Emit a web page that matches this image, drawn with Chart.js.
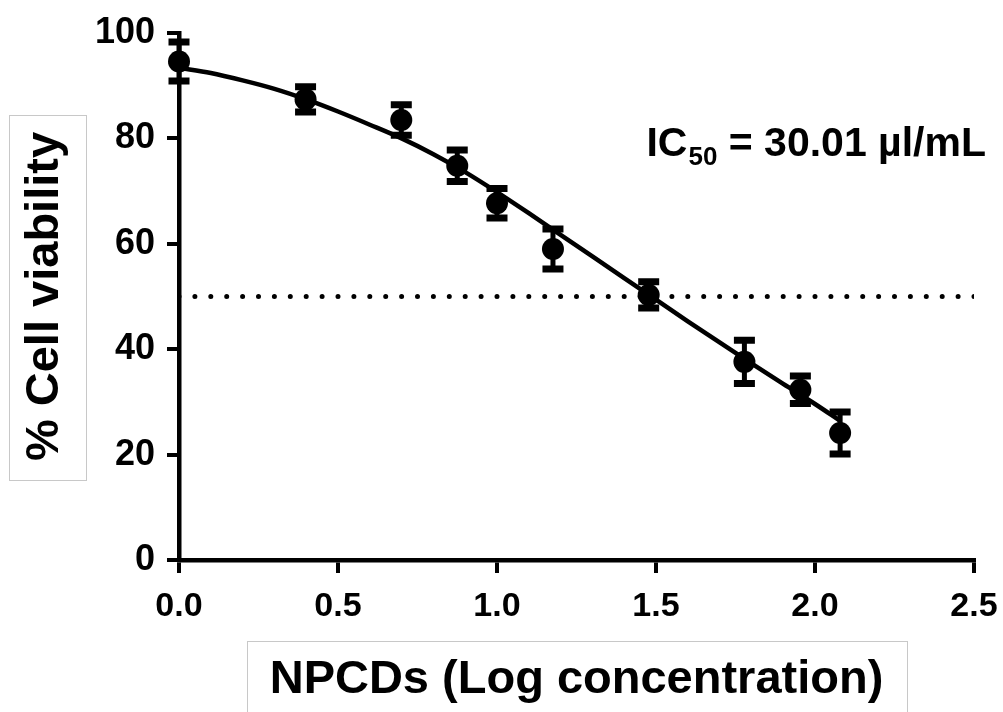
<!DOCTYPE html>
<html>
<head>
<meta charset="utf-8">
<title>NPCDs cell viability</title>
<script src="https://cdn.jsdelivr.net/npm/chart.js@4/dist/chart.umd.min.js"></script>
<style>
  html, body { margin: 0; padding: 0; background: #fff; }
  #wrap { width: 1003px; height: 712px; position: relative; }
</style>
</head>
<body>
<div id="wrap"><canvas id="viability"></canvas></div>
<script>
// measured points (log concentration vs % viability, mean +/- error)
const logConc = [0, 0.398, 0.699, 0.875, 1.0, 1.176, 1.477, 1.778, 1.954, 2.079]
const viability = [94.6, 87.4, 83.5, 74.8, 67.7, 59.0, 50.3, 37.6, 32.3, 24.1]
const viabilityErr = [3.7, 2.4, 2.9, 3.0, 2.8, 3.8, 2.5, 4.1, 2.6, 4.0]

// fitted curve
const fitX = [0, 0.1, 0.2, 0.3, 0.4, 0.5, 0.6, 0.7, 0.8, 0.9, 1.0, 1.1, 1.2, 1.3, 1.4, 1.5, 1.6, 1.7, 1.8, 1.9, 2.0, 2.079]
const fitY = [93.4, 92.4, 91.0, 89.4, 87.4, 85.1, 82.6, 80.0, 77.0, 73.6, 69.8, 65.8, 61.7, 57.6, 53.5, 49.4, 45.3, 41.3, 37.3, 33.4, 29.6, 26.4]

const halfLine = [0, 2.5]
const halfLineY = 50

const xTicks = [0, 0.5, 1.0, 1.5, 2.0, 2.5]
const yTicks = [0, 20, 40, 60, 80, 100]

const xTitle = 'NPCDs (Log concentration)'
const yTitle = '% Cell viability'

const FONT = '"Liberation Sans", Arial, Helvetica, sans-serif'
const TITLE_SIZE = 47
Chart.defaults.font.family = FONT
Chart.defaults.color = '#000'

// error bars, axis title boxes and the IC50 label
const extras = {
  id: 'extras',
  afterDatasetsDraw(chart) {
    const { ctx, scales } = chart
    const xs = scales.x
    const ys = scales.y
    ctx.save()
    ctx.strokeStyle = '#000'
    logConc.forEach((lx, i) => {
      const px = xs.getPixelForValue(lx)
      const top = ys.getPixelForValue(viability[i] + viabilityErr[i])
      const bot = ys.getPixelForValue(viability[i] - viabilityErr[i])
      ctx.lineWidth = 5
      ctx.beginPath()
      ctx.moveTo(px, top)
      ctx.lineTo(px, bot)
      ctx.stroke()
      ctx.lineWidth = 7
      ctx.beginPath()
      ctx.moveTo(px - 10.5, top)
      ctx.lineTo(px + 10.5, top)
      ctx.moveTo(px - 10.5, bot)
      ctx.lineTo(px + 10.5, bot)
      ctx.stroke()
    })
    ctx.restore()
  },
  afterDraw(chart) {
    const { ctx, scales, chartArea } = chart
    const xs = scales.x
    const ys = scales.y
    ctx.save()
    ctx.strokeStyle = '#c8c8c8'
    ctx.lineWidth = 1
    ctx.font = 'bold ' + TITLE_SIZE + 'px ' + FONT

    // box round y title
    const yw = ctx.measureText(yTitle).width + 36
    const ycx = ys.left + 17 + TITLE_SIZE * 1.2 / 2 + 2
    const ycy = (chartArea.top + chartArea.bottom) / 2 + 1
    ctx.strokeRect(Math.round(ycx - 38.5) + 0.5, Math.round(ycy - yw / 2) + 0.5, 77, Math.round(yw))

    // box round x title
    const xw = ctx.measureText(xTitle).width + 46
    const xcx = (chartArea.left + chartArea.right) / 2
    const xtop = xs.bottom - 4 - TITLE_SIZE * 1.2 / 2 - 39
    ctx.strokeRect(Math.round(xcx - xw / 2) + 0.5, Math.round(xtop) + 0.5, Math.round(xw), 90)

    // IC50 label
    let tx = xs.getPixelForValue(1.47)
    const base = ys.getPixelForValue(76.7)
    ctx.fillStyle = '#000'
    ctx.textBaseline = 'alphabetic'
    ctx.textAlign = 'left'
    ctx.font = 'bold 41px ' + FONT
    ctx.fillText('IC', tx, base)
    tx += ctx.measureText('IC').width + 1
    ctx.font = 'bold 26px ' + FONT
    ctx.fillText('50', tx, base + 9)
    tx += ctx.measureText('50').width
    ctx.font = 'bold 41px ' + FONT
    ctx.fillText(' = 30.01 µl/mL', tx, base)
    ctx.restore()
  }
}

const axisGrid = {
  display: true,
  drawOnChartArea: false,
  drawTicks: true,
  tickLength: 12,
  tickWidth: 4,
  color: '#000',
  lineWidth: 4
}

new Chart(document.getElementById('viability'), {
  type: 'line',
  data: {
    datasets: [
      {
        label: 'viability',
        data: logConc.map((x, i) => ({ x, y: viability[i] })),
        showLine: false,
        pointRadius: 11,
        pointHoverRadius: 11,
        pointBackgroundColor: '#000',
        pointBorderColor: '#000',
        pointBorderWidth: 0,
        clip: false
      },
      {
        label: 'fit',
        data: fitX.map((x, i) => ({ x, y: fitY[i] })),
        borderColor: '#000',
        borderWidth: 4.5,
        pointRadius: 0,
        cubicInterpolationMode: 'monotone',
        fill: false
      },
      {
        label: '50%',
        data: halfLine.map((x) => ({ x, y: halfLineY })),
        borderColor: '#000',
        borderWidth: 5,
        borderDash: [0, 15.9],
        borderCapStyle: 'round',
        pointRadius: 0,
        fill: false
      }
    ]
  },
  options: {
    responsive: true,
    maintainAspectRatio: false,
    animation: false,
    events: [],
    layout: { padding: { left: 0, right: 29, top: 33, bottom: 0 } },
    plugins: {
      legend: { display: false },
      tooltip: { enabled: false }
    },
    scales: {
      x: {
        type: 'linear',
        min: 0,
        max: 2.5,
        afterFit: (s) => {
          s.height = 152
          s.paddingLeft = 0
          s.paddingRight = 0
        },
        afterBuildTicks: (s) => { s.ticks = xTicks.map((v) => ({ value: v })) },
        ticks: {
          padding: 13,
          font: { size: 34, weight: 'bold' },
          color: '#000',
          callback: (v) => Number(v).toFixed(1)
        },
        grid: { ...axisGrid, tickLength: 13 },
        border: { display: true, color: '#000', width: 4.5 },
        title: {
          display: true,
          text: xTitle,
          color: '#000',
          font: { size: TITLE_SIZE, weight: 'bold' },
          padding: { top: 0, bottom: 4 }
        }
      },
      y: {
        type: 'linear',
        min: 0,
        max: 100,
        afterFit: (s) => {
          s.width = 179
          s.paddingTop = 0
          s.paddingBottom = 0
        },
        afterBuildTicks: (s) => { s.ticks = yTicks.map((v) => ({ value: v })) },
        ticks: {
          padding: 12,
          font: { size: 36, weight: 'bold' },
          color: '#000'
        },
        grid: axisGrid,
        border: { display: true, color: '#000', width: 4.5 },
        title: {
          display: true,
          text: yTitle,
          color: '#000',
          font: { size: TITLE_SIZE, weight: 'bold' },
          padding: { top: 17, bottom: 0 }
        }
      }
    }
  },
  plugins: [extras]
})
</script>
</body>
</html>
